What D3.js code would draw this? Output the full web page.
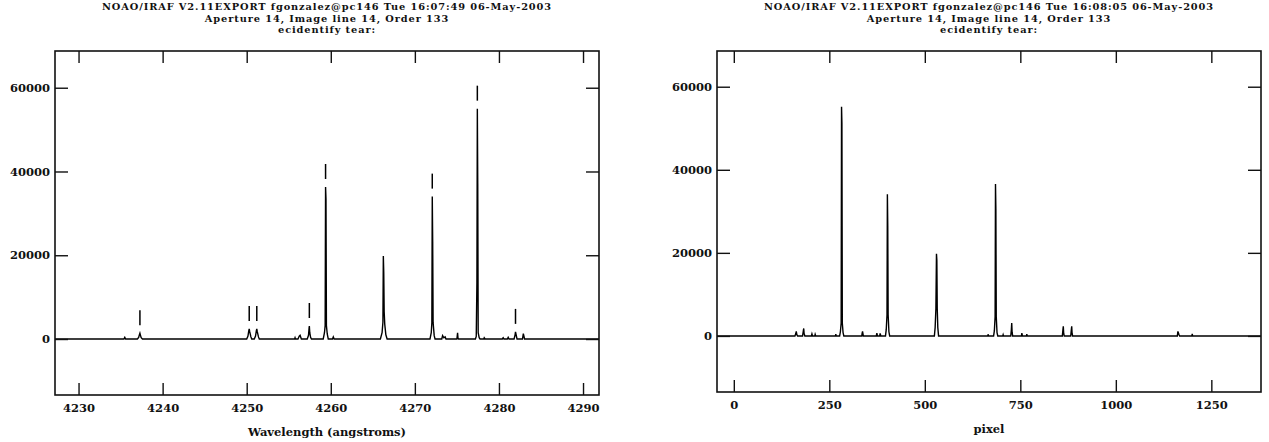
<!DOCTYPE html>
<html>
<head>
<meta charset="utf-8">
<script src="https://cdn.jsdelivr.net/npm/d3@7"></script>
<style>
  html, body { margin: 0; padding: 0; background: #fff; }
  svg { display: block; }
  text { font-family: "DejaVu Serif", "Liberation Serif", serif; font-weight: bold; fill: #111; }
</style>
</head>
<body>
<svg id="chart" width="1269" height="442"></svg>
<script>
// ---------------- DATA ----------------
const leftTitle = [
  "NOAO/IRAF V2.11EXPORT fgonzalez@pc146 Tue 16:07:49 06-May-2003",
  "Aperture 14, Image line 14, Order 133",
  "ecidentify tear:"
];
const rightTitle = [
  "NOAO/IRAF V2.11EXPORT fgonzalez@pc146 Tue 16:08:05 06-May-2003",
  "Aperture 14, Image line 14, Order 133",
  "ecidentify tear:"
];
const leftXLabel = "Wavelength (angstroms)";
const rightXLabel = "pixel";

const leftXTicks = [4230, 4240, 4250, 4260, 4270, 4280, 4290];
const rightXTicks = [0, 250, 500, 750, 1000, 1250];
const yTicks = [0, 20000, 40000, 60000];

const leftXDomain = [4227.2, 4291.9];
const leftYDomain = [-13370, 68770];
const rightXDomain = [-44, 1380];
const rightYDomain = [-13500, 68600];

// spectrum vs wavelength (samples)
const leftWave = [
  4227.2,
  4235.4, 4235.5, 4235.6,
  4237.0, 4237.15, 4237.25, 4237.3, 4237.35, 4237.45, 4237.6,
  4250.0, 4250.15, 4250.25, 4250.3, 4250.35, 4250.5, 4250.6,
  4250.9, 4251.05, 4251.15, 4251.2, 4251.25, 4251.4, 4251.5,
  4255.7, 4255.75, 4255.8,
  4256.1, 4256.25, 4256.35, 4256.5,
  4257.2, 4257.35, 4257.42, 4257.45, 4257.5, 4257.6, 4257.7,
  4259.1, 4259.25, 4259.33, 4259.38, 4259.43, 4259.48, 4259.58, 4259.7,
  4260.2, 4260.3, 4260.4,
  4265.9, 4266.1, 4266.2, 4266.25, 4266.3, 4266.35, 4266.42, 4266.55, 4266.7,
  4271.8, 4271.95, 4272.02, 4272.07, 4272.12, 4272.17, 4272.3, 4272.4,
  4273.2, 4273.3, 4273.45, 4273.6, 4273.7,
  4275.0, 4275.08, 4275.13, 4275.2,
  4277.2, 4277.3, 4277.38, 4277.43, 4277.48, 4277.53, 4277.65, 4277.75,
  4278.2, 4278.25, 4278.35,
  4280.4, 4280.5, 4280.6,
  4281.0, 4281.1, 4281.2,
  4281.8, 4281.92, 4281.97, 4282.02, 4282.15,
  4282.8, 4282.9, 4283.05,
  4291.9
];
const leftFlux = [
  0,
  0, 400, 0,
  0, 400, 1100, 1400, 1000, 300, 0,
  0, 700, 2000, 2400, 1800, 500, 0,
  0, 700, 2000, 2400, 1800, 500, 0,
  0, 300, 0,
  0, 700, 900, 0,
  0, 900, 2600, 3100, 1500, 400, 0,
  0, 1500, 3200, 36300, 33500, 3200, 1200, 0,
  0, 500, 0,
  0, 1500, 4000, 19800, 15800, 6500, 3500, 1000, 0,
  0, 1500, 3900, 34000, 23300, 3900, 800, 0,
  0, 800, 300, 500, 0,
  0, 1500, 200, 0,
  0, 600, 13600, 55000, 37000, 1500, 300, 0,
  0, 300, 0,
  0, 300, 0,
  0, 400, 0,
  0, 1000, 1700, 1200, 0,
  0, 1300, 0,
  0
];

// identified line marks
const idWave = [4237.3, 4250.3, 4251.2, 4257.45, 4259.38, 4272.07, 4277.43, 4281.97];
const idFlux = [1400, 2400, 2400, 3100, 36300, 34000, 55000, 1700];

// spectrum vs pixel (samples)
const rightPixel = [
  -44,
  160, 162, 163.5, 165, 167,
  180, 182, 183, 184, 186,
  203, 204.5, 206,
  212, 213, 214.5,
  266, 267, 268,
  277, 279, 281, 282, 283, 284, 286, 288,
  335, 336, 337, 339,
  373, 374.5, 376,
  382, 383, 385,
  397, 399, 401, 402, 403, 404, 406, 408,
  525, 527, 529, 530.5, 531.5, 532.5, 534, 536,
  665, 665.5, 667,
  680, 682, 684, 685, 686, 687, 689, 691,
  704, 705, 706,
  725, 726.5, 727.5, 728.5, 730,
  753, 754, 755.5,
  766, 767, 768,
  860, 861.5, 862.5, 863.5, 865,
  882, 883.5, 884.5, 885.5, 887,
  1161, 1162.5, 1165, 1167,
  1199, 1200, 1201,
  1380
];
const rightFlux = [
  0,
  0, 500, 1100, 300, 0,
  0, 1200, 1800, 600, 0,
  0, 500, 0,
  0, 400, 0,
  0, 400, 0,
  0, 1000, 3100, 55200, 51200, 3100, 800, 0,
  0, 700, 1100, 0,
  0, 700, 0,
  0, 600, 0,
  0, 1500, 5100, 34100, 26500, 5100, 1000, 0,
  0, 2000, 6600, 19800, 18200, 6600, 2000, 0,
  0, 400, 0,
  0, 1200, 4600, 36600, 30600, 4600, 800, 0,
  0, 300, 0,
  0, 1500, 3100, 900, 0,
  0, 700, 0,
  0, 400, 0,
  0, 1500, 2300, 600, 0,
  0, 1500, 2300, 600, 0,
  0, 1100, 400, 0,
  0, 500, 0,
  0
];

// ---------------- DRAW ----------------
const svg = d3.select("#chart");
const ink = "#111";

function panel(opts) {
  const { box, xDomain, yDomain, xTicks, xs, ys, title, xLabel, ids, idVals, clipId } = opts;
  const x = d3.scaleLinear().domain(xDomain).range([box.x0, box.x1]);
  const y = d3.scaleLinear().domain(yDomain).range([box.y1, box.y0]);
  const g = svg.append("g");

  g.append("clipPath").attr("id", clipId).append("rect")
    .attr("x", box.x0).attr("y", box.y0)
    .attr("width", box.x1 - box.x0).attr("height", box.y1 - box.y0);

  // spectrum
  const pts = xs.map((v, i) => [v, ys[i]]);
  g.append("path")
    .attr("clip-path", `url(#${clipId})`)
    .attr("d", d3.line().x(d => x(d[0])).y(d => y(d[1]))(pts))
    .attr("fill", "none").attr("stroke", "#000").attr("stroke-width", 1.4);

  // identification marks
  if (ids) {
    g.selectAll("line.id").data(ids).join("line")
      .attr("class", "id")
      .attr("x1", d => x(d)).attr("x2", d => x(d))
      .attr("y1", (d, i) => y(idVals[i]) - 8)
      .attr("y2", (d, i) => y(idVals[i]) - 23)
      .attr("stroke", "#000").attr("stroke-width", 1.5);
  }

  // axes (ticks inward on all four sides)
  const tl = 12;
  const bottom = d3.axisBottom(x).tickValues(xTicks).tickSize(-tl).tickPadding(9).tickFormat(d3.format("d"));
  const top = d3.axisTop(x).tickValues(xTicks).tickSize(-tl).tickFormat("");
  const left = d3.axisLeft(y).tickValues(yTicks).tickSize(-13).tickPadding(5).tickFormat(d3.format("d"));
  const right = d3.axisRight(y).tickValues(yTicks).tickSize(-13).tickFormat("");

  const styleAxis = sel => {
    sel.select(".domain").remove();
    sel.selectAll(".tick line").attr("stroke", ink).attr("stroke-width", 1.4);
    sel.selectAll("text").attr("font-size", 11.5).attr("fill", ink)
      .style("font-family", '"DejaVu Serif", serif').style("font-weight", "bold");
  };
  g.append("g").attr("transform", `translate(0,${box.y1})`).call(bottom).call(styleAxis);
  g.append("g").attr("transform", `translate(0,${box.y0})`).call(top).call(styleAxis);
  g.append("g").attr("transform", `translate(${box.x0},0)`).call(left).call(styleAxis);
  g.append("g").attr("transform", `translate(${box.x1},0)`).call(right).call(styleAxis);

  // frame
  g.append("rect")
    .attr("x", box.x0).attr("y", box.y0)
    .attr("width", box.x1 - box.x0).attr("height", box.y1 - box.y0)
    .attr("fill", "none").attr("stroke", ink).attr("stroke-width", 1.6);

  // titles
  const cx = (box.x0 + box.x1) / 2;
  g.selectAll("text.title").data(title).join("text")
    .attr("class", "title")
    .attr("x", cx).attr("y", (d, i) => 10 + i * 11.7)
    .attr("text-anchor", "middle").attr("font-size", 9.8)
    .attr("letter-spacing", 0.9)
    .text(d => d);

  g.append("text")
    .attr("x", cx).attr("y", box.y1 + 41)
    .attr("text-anchor", "middle").attr("font-size", 11.5)
    .text(xLabel);
}

panel({
  box: { x0: 55, x1: 599, y0: 51, y1: 395 },
  xDomain: leftXDomain, yDomain: leftYDomain, xTicks: leftXTicks,
  xs: leftWave, ys: leftFlux, title: leftTitle, xLabel: leftXLabel,
  ids: idWave, idVals: idFlux, clipId: "clipL"
});
panel({
  box: { x0: 717, x1: 1261, y0: 51, y1: 392 },
  xDomain: rightXDomain, yDomain: rightYDomain, xTicks: rightXTicks,
  xs: rightPixel, ys: rightFlux, title: rightTitle, xLabel: rightXLabel,
  ids: null, idVals: null, clipId: "clipR"
});
</script>
</body>
</html>
